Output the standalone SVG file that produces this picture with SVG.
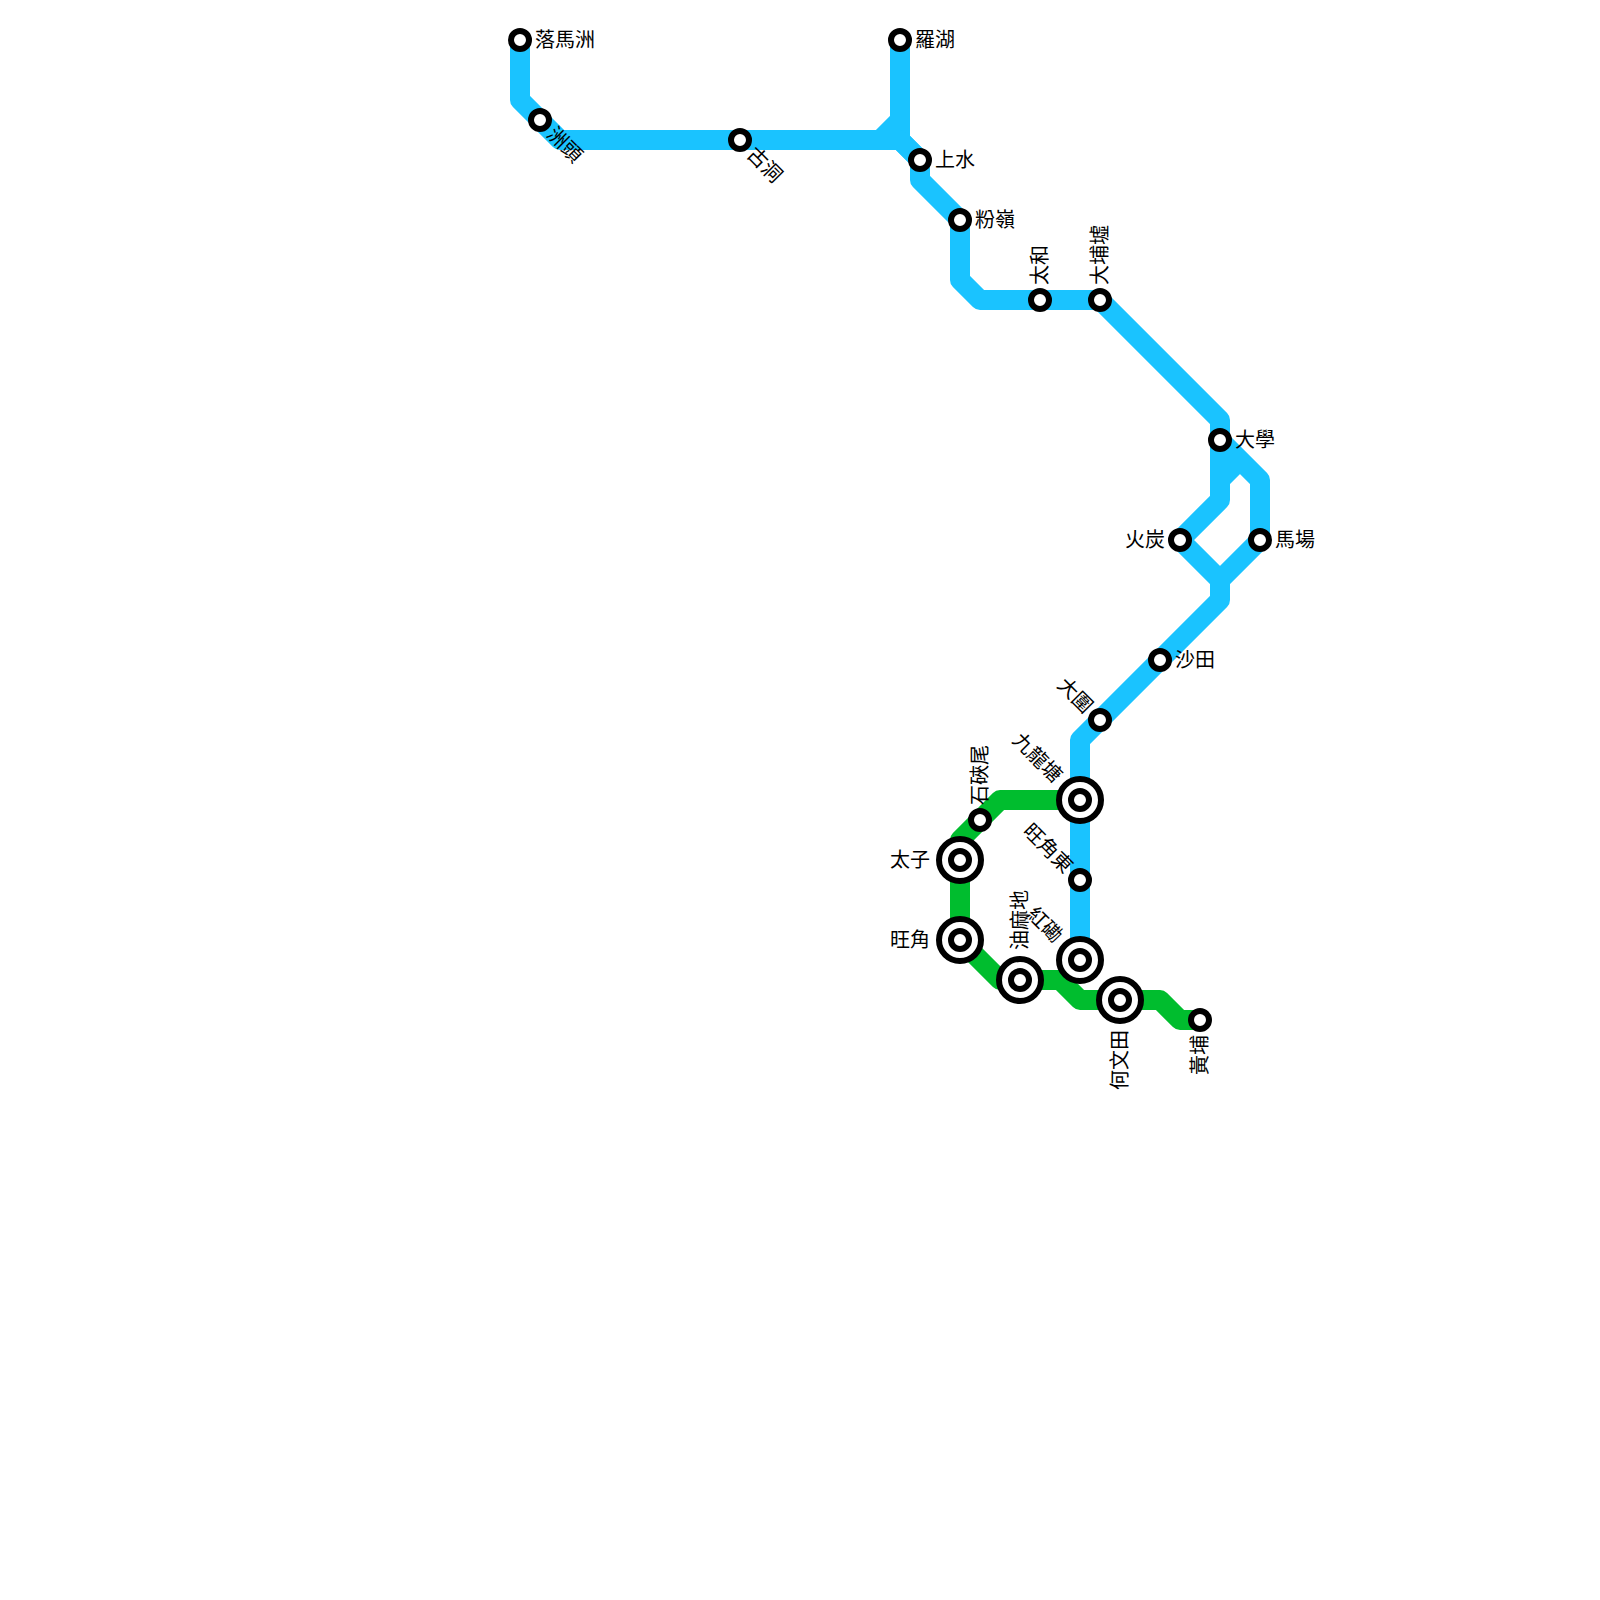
<svg xmlns="http://www.w3.org/2000/svg" width="1600" height="1600" viewBox="0 0 1600 1600">
<style>
.line{fill:none;stroke-width:20;stroke-linejoin:round;stroke-linecap:butt}
.blue{stroke:#1ac3ff}
.green{stroke:#00bd2e}
.st{fill:#fff;stroke:#000;stroke-width:6}
text{font-family:"Liberation Sans","Noto Sans CJK TC",sans-serif;font-size:20px;fill:#000;dominant-baseline:central}
.e{text-anchor:end}
</style>
<g id="connectors">
<path class="line green" d="M1080 800H1000L960 840V940L1000 980H1060L1080 1000H1160L1180 1020H1200"/>
<path class="line blue" d="M520 40V100L560 140H880L900 120V40"/>
<path class="line blue" d="M900 40V140L920 160V180L960 220V280L980 300H1100L1220 420V500L1180 540L1220 580V600L1100 720L1080 740V960"/>
<path class="line blue" d="M880 140H900L920 160"/>
<path class="line blue" d="M1220 440L1260 480V540L1220 580"/>
<path class="line blue" d="M1220 480L1240 460"/>
</g>
<g id="s1"><circle class="st" cx="520" cy="40" r="9"/><text x="535" y="40">落馬洲</text></g>
<g id="s2"><circle class="st" cx="540" cy="120" r="9"/><text transform="translate(540 120) rotate(45)" x="15">洲頭</text></g>
<g id="s3"><circle class="st" cx="740" cy="140" r="9"/><text transform="translate(740 140) rotate(45)" x="15">古洞</text></g>
<g id="s4"><circle class="st" cx="900" cy="40" r="9"/><text x="915" y="40">羅湖</text></g>
<g id="s5"><circle class="st" cx="920" cy="160" r="9"/><text x="935" y="160">上水</text></g>
<g id="s6"><circle class="st" cx="960" cy="220" r="9"/><text x="975" y="220">粉嶺</text></g>
<g id="s7"><circle class="st" cx="1040" cy="300" r="9"/><text transform="translate(1040 300) rotate(-90)" x="15">太和</text></g>
<g id="s8"><circle class="st" cx="1100" cy="300" r="9"/><text transform="translate(1100 300) rotate(-90)" x="15">大埔墟</text></g>
<g id="s9"><circle class="st" cx="1220" cy="440" r="9"/><text x="1235" y="440">大學</text></g>
<g id="s10"><circle class="st" cx="1180" cy="540" r="9"/><text class="e" x="1165" y="540">火炭</text></g>
<g id="s11"><circle class="st" cx="1260" cy="540" r="9"/><text x="1275" y="540">馬場</text></g>
<g id="s12"><circle class="st" cx="1160" cy="660" r="9"/><text x="1175" y="660">沙田</text></g>
<g id="s13"><circle class="st" cx="1100" cy="720" r="9"/><text class="e" transform="translate(1100 720) rotate(45)" x="-15">大圍</text></g>
<g id="s14"><circle class="st" cx="1080" cy="800" r="21"/><circle class="st" cx="1080" cy="800" r="9"/><text class="e" transform="translate(1080 800) rotate(45)" x="-30">九龍塘</text></g>
<g id="s15"><circle class="st" cx="1080" cy="880" r="9"/><text class="e" transform="translate(1080 880) rotate(45)" x="-15">旺角東</text></g>
<g id="s16"><circle class="st" cx="1080" cy="960" r="21"/><circle class="st" cx="1080" cy="960" r="9"/><text class="e" transform="translate(1080 960) rotate(45)" x="-30">紅磡</text></g>
<g id="s17"><circle class="st" cx="980" cy="820" r="9"/><text transform="translate(980 820) rotate(-90)" x="15">石硤尾</text></g>
<g id="s18"><circle class="st" cx="960" cy="860" r="21"/><circle class="st" cx="960" cy="860" r="9"/><text class="e" x="930" y="860">太子</text></g>
<g id="s19"><circle class="st" cx="960" cy="940" r="21"/><circle class="st" cx="960" cy="940" r="9"/><text class="e" x="930" y="940">旺角</text></g>
<g id="s20"><circle class="st" cx="1020" cy="980" r="21"/><circle class="st" cx="1020" cy="980" r="9"/><text transform="translate(1020 980) rotate(-90)" x="30">油麻地</text></g>
<g id="s21"><circle class="st" cx="1120" cy="1000" r="21"/><circle class="st" cx="1120" cy="1000" r="9"/><text class="e" transform="translate(1120 1000) rotate(-90)" x="-30">何文田</text></g>
<g id="s22"><circle class="st" cx="1200" cy="1020" r="9"/><text class="e" transform="translate(1200 1020) rotate(-90)" x="-15">黃埔</text></g>
</svg>
